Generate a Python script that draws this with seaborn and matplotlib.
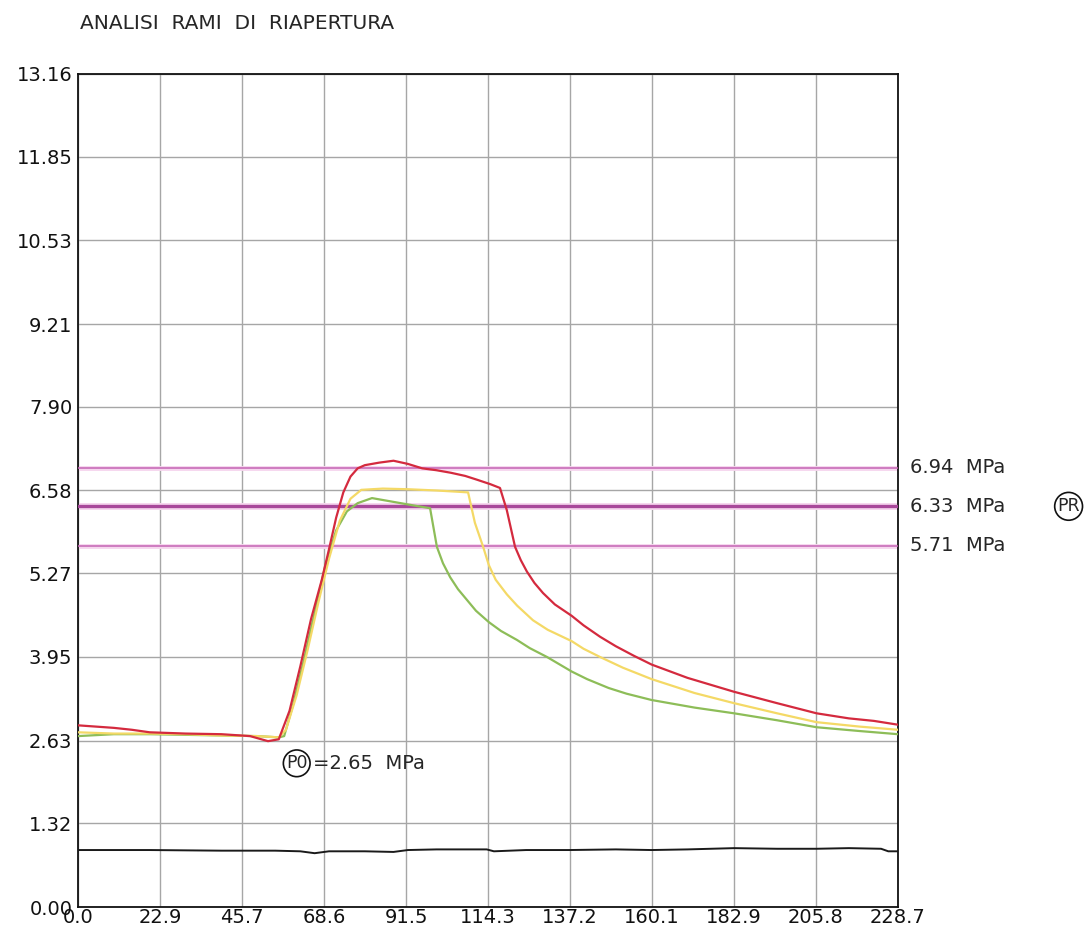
import numpy as np
import pandas as pd
import matplotlib
matplotlib.use('Agg')
import matplotlib.pyplot as plt
import seaborn as sns

# tick labels
y_ticks = [0.00, 1.32, 2.63, 3.95, 5.27, 6.58, 7.90, 9.21, 10.53, 11.85, 13.16]
x_ticks = [0.0, 22.9, 45.7, 68.6, 91.5, 114.3, 137.2, 160.1, 182.9, 205.8, 228.7]

# pressure levels (MPa)
pr_levels = [6.94, 6.33, 5.71]
pr_value = 6.33
p0_value = 2.65

# red branch
red_t = [0, 5, 10, 15, 20, 30, 40, 48, 53, 56, 59, 62, 65, 68, 70, 72, 74, 76, 78, 80, 84,
         88, 92, 96, 100, 104, 108, 111.3, 115, 117.7, 119.6, 121.9, 123.5, 125.2, 127.3,
         129.7, 133, 137.7, 141, 145.6, 150, 155, 160, 170, 183, 195, 206, 215, 222, 228.7]
red_p = [2.87, 2.85, 2.83, 2.80, 2.76, 2.74, 2.73, 2.70, 2.62, 2.65, 3.10, 3.80, 4.55, 5.17,
         5.65, 6.15, 6.55, 6.80, 6.93, 6.98, 7.02, 7.05, 7.00, 6.93, 6.90, 6.86, 6.81, 6.75,
         6.68, 6.62, 6.27, 5.69, 5.48, 5.30, 5.12, 4.96, 4.78, 4.60, 4.45, 4.27, 4.12, 3.97,
         3.83, 3.62, 3.40, 3.22, 3.06, 2.98, 2.94, 2.88]

# yellow branch
yel_t = [0, 10, 20, 30, 40, 50, 56, 58, 61, 64, 67, 70, 73, 76, 79, 85, 92, 100, 106, 108.8,
         110.7, 113, 114.6, 116.5, 119.6, 122.5, 126.9, 131, 137.7, 141, 145.6, 152, 160, 172,
         183, 195, 206, 218, 228.7]
yel_p = [2.76, 2.74, 2.74, 2.73, 2.71, 2.70, 2.68, 2.80, 3.35, 4.05, 4.80, 5.50, 6.10, 6.45,
         6.59, 6.61, 6.60, 6.58, 6.56, 6.55, 6.07, 5.69, 5.40, 5.17, 4.94, 4.76, 4.53, 4.38,
         4.20, 4.08, 3.95, 3.78, 3.60, 3.38, 3.22, 3.06, 2.92, 2.85, 2.80]

# green branch
grn_t = [0, 10, 20, 30, 40, 50, 56, 57.5, 60, 63, 66, 69, 72, 75, 78, 82, 88, 94, 98.2, 100.1,
         101.8, 103.8, 106, 108.5, 111, 114.6, 118, 122.4, 126, 130.8, 137.7, 142, 148, 153,
         160, 172, 183, 195, 206, 218, 228.7]
grn_p = [2.70, 2.73, 2.73, 2.72, 2.71, 2.70, 2.68, 2.70, 3.20, 3.90, 4.65, 5.40, 5.95, 6.25,
         6.38, 6.46, 6.40, 6.34, 6.30, 5.69, 5.43, 5.21, 5.02, 4.85, 4.68, 4.50, 4.36, 4.22,
         4.09, 3.95, 3.72, 3.60, 3.46, 3.37, 3.27, 3.15, 3.06, 2.95, 2.84, 2.78, 2.73]

# black trace
blk_t = [0, 20, 40, 55, 62, 66, 70, 80, 88, 92, 100, 114, 116, 125, 137, 150, 160, 170, 183,
         195, 206, 215, 224, 226, 228.7]
blk_p = [0.90, 0.90, 0.89, 0.89, 0.88, 0.85, 0.88, 0.88, 0.87, 0.90, 0.91, 0.91, 0.88, 0.90,
         0.90, 0.91, 0.90, 0.91, 0.93, 0.92, 0.92, 0.93, 0.92, 0.88, 0.88]

sns.set_theme(style='white')
plt.rcParams['font.family'] = ['DejaVu Sans']

fig = plt.figure(figsize=(10.85, 9.4), dpi=100)
ax = fig.add_axes([0.0719, 0.0351, 0.7557, 0.8862])

# pressure level lines with a light halo
for lvl in pr_levels:
    thick = lvl == pr_value
    ax.axhline(lvl, color='#f6d6ee', lw=5 if thick else 3.5, zorder=2)
    ax.axhline(lvl, color='#a8489a' if thick else '#c464b4', lw=2.4 if thick else 1.1, zorder=3)

sns.lineplot(x=blk_t, y=blk_p, ax=ax, color='#1a1a1a', lw=1.4, sort=False, estimator=None, zorder=4)
sns.lineplot(x=grn_t, y=grn_p, ax=ax, color='#8dbd58', lw=1.6, sort=False, estimator=None, zorder=4)
sns.lineplot(x=yel_t, y=yel_p, ax=ax, color='#f4d966', lw=1.6, sort=False, estimator=None, zorder=5)
sns.lineplot(x=red_t, y=red_p, ax=ax, color='#d42a3e', lw=1.6, sort=False, estimator=None, zorder=6)

ax.set_xlim(0, 228.7)
ax.set_ylim(0, 13.16)
ax.set_xticks(x_ticks)
ax.set_xticklabels([f'{v:.1f}' for v in x_ticks])
ax.set_yticks(y_ticks)
ax.set_yticklabels([f'{v:.2f}' for v in y_ticks])
ax.tick_params(axis='both', length=0, labelsize=14, colors='#111111')
ax.tick_params(axis='x', pad=1)
ax.tick_params(axis='y', pad=4)
ax.grid(True, color='#a6a6a6', lw=1.0)
ax.set_axisbelow(True)
for sp in ax.spines.values():
    sp.set_color('#111111')
    sp.set_linewidth(1.3)
ax.set_xlabel('')
ax.set_ylabel('')

# labels on the right
for lvl in pr_levels:
    ax.text(232.2, lvl, f'{lvl:.2f}  MPa', fontsize=14, va='center', ha='left', clip_on=False)
ax.text(276.3, pr_value, 'PR', fontsize=12.5, va='center', ha='center', clip_on=False,
        bbox=dict(boxstyle='circle,pad=0.15', fc='white', ec='#111111', lw=1.2))

# P0 label
ax.text(61.0, 2.27, 'P0', fontsize=12.5, va='center', ha='center',
        bbox=dict(boxstyle='circle,pad=0.15', fc='white', ec='#111111', lw=1.2))
ax.text(65.5, 2.27, f'={p0_value:.2f}  MPa', fontsize=14, va='center', ha='left')

fig.text(0.074, 0.9755, 'ANALISI  RAMI  DI  RIAPERTURA', fontsize=14.5, va='center', ha='left')

fig.savefig('out.png', dpi=100, facecolor='white')
